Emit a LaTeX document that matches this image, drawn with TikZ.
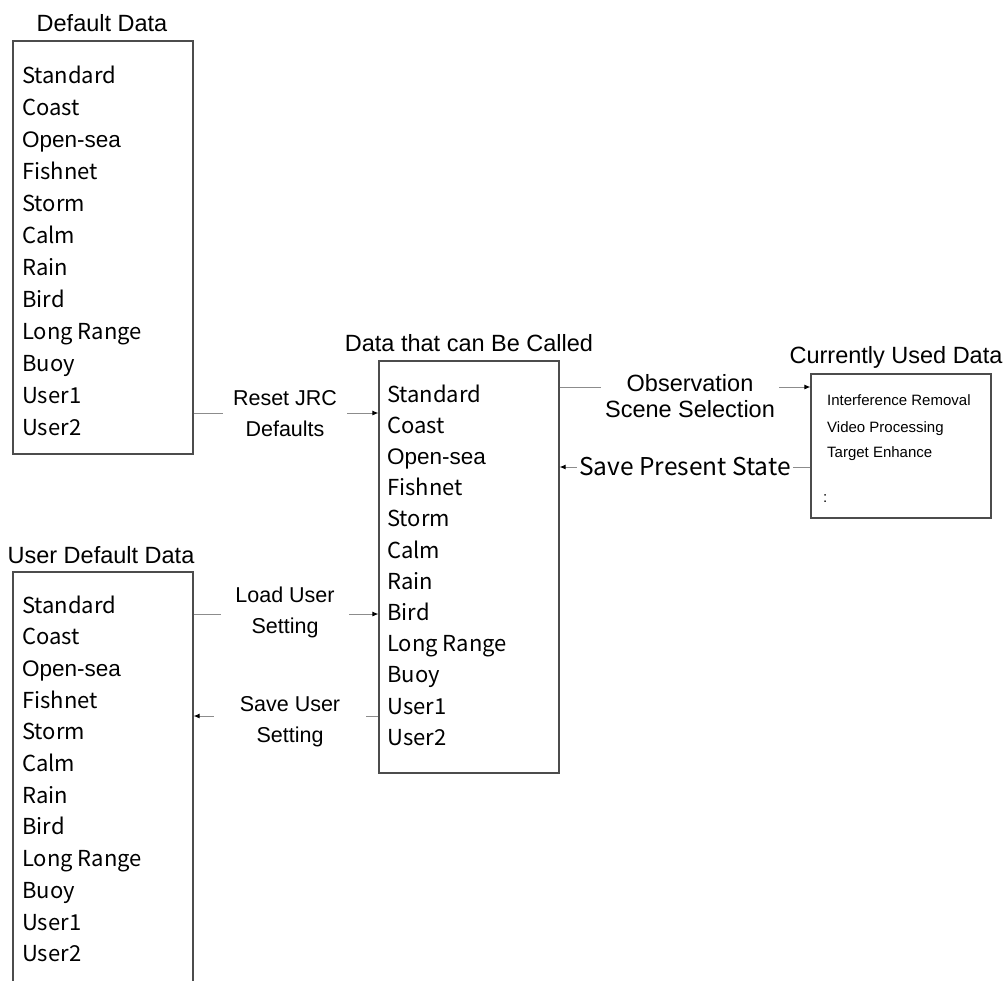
\documentclass[tikz,border=0pt]{standalone}
\usepackage{fontspec}
\setmainfont{Liberation Sans}
\newfontfamily\gothicfont{Noto Sans CJK JP}
\usetikzlibrary{arrows.meta,positioning}

\newcommand\opensea{\normalfont\fontsize{22.5}{26}\selectfont Open-sea}

\begin{document}
\begin{tikzpicture}[x=1pt,y=-1pt,>={Latex[length=6pt,width=5pt,color=black]},
  box/.style={draw=black!70,line width=1.2pt,minimum width=180pt,inner sep=0pt},
  ttl/.style={anchor=base,inner sep=0pt,font=\fontsize{23.5}{26}\selectfont},
  entry/.style={anchor=base west,inner sep=0pt,font=\gothicfont\fontsize{22}{26}\selectfont},
  small/.style={anchor=base west,inner sep=0pt,font=\fontsize{15}{18}\selectfont},
  lbl/.style={align=center,fill=white,inner xsep=10pt,inner ysep=2pt,font=\fontsize{21.5}{31}\selectfont},
  link/.style={draw=black!45,line width=0.9pt}]
\clip (0,0) rectangle (1008,980);

% boxes
\node[box,minimum height=413pt] (dflt) at (103,247.5) {};
\node[box,minimum height=412pt] (call) at (469,567) {};
\node[box,minimum height=144pt] (cur) at (901,446) {};
\node[box,minimum height=440pt] (user) at (103,792) {};

% titles
\node[ttl] (dflttitle) at (102,31) {Default Data};
\node[ttl] (calltitle) at (469,351) {Data that can Be Called};
\node[ttl] (curtitle) at (896,363) {Currently Used Data};
\node[ttl] (usertitle) at (101,563) {User Default Data};

% lists
\foreach \name [count=\i from 0] in {Standard,Coast,\opensea,Fishnet,Storm,Calm,Rain,Bird,Long Range,Buoy,User1,User2}{
  \node[entry] (dflt-\i) at (22,83+32*\i) {\name};
  \node[entry] (call-\i) at (387,402+31.2*\i) {\name};
  \node[entry] (user-\i) at (22,613+31.7*\i) {\name};
}
\node[small] (cur-1) at (827,405) {Interference Removal};
\node[small] (cur-2) at (827,432) {Video Processing};
\node[small] (cur-3) at (827,457) {Target Enhance};
\node[small] (cur-4) at (823,502) {:};

% connector rows
\coordinate (rstrow) at (0,413);
\coordinate (obsrow) at (0,387);
\coordinate (savrow) at (0,467);
\coordinate (lusrow) at (0,614);
\coordinate (susrow) at (0,716);

\draw[link,->] (dflt.east |- rstrow) -- (call.west |- rstrow);
\draw[link,->] (call.east |- obsrow) -- (cur.west |- obsrow);
\draw[link,->] (cur.west |- savrow) -- (call.east |- savrow);
\draw[link,->] (user.east |- lusrow) -- (call.west |- lusrow);
\draw[link,<-] (user.east |- susrow) -- (call.west |- susrow);

% labels
\node[lbl] (rst) at (285,414) {Reset JRC\\Defaults};
\node[lbl,font=\fontsize{23.5}{26}\selectfont,inner xsep=4pt] (obs) at (690,396) {Observation\\Scene Selection};
\node[lbl,font=\gothicfont\fontsize{24.5}{26}\selectfont,inner xsep=2pt] (sav) at (685,467) {Save Present State};
\node[lbl,inner xsep=14pt] (lus) at (285,612) {Load User\\Setting};
\node[lbl,inner xsep=26pt] (sus) at (290,722) {Save User\\Setting};
\end{tikzpicture}
\end{document}
